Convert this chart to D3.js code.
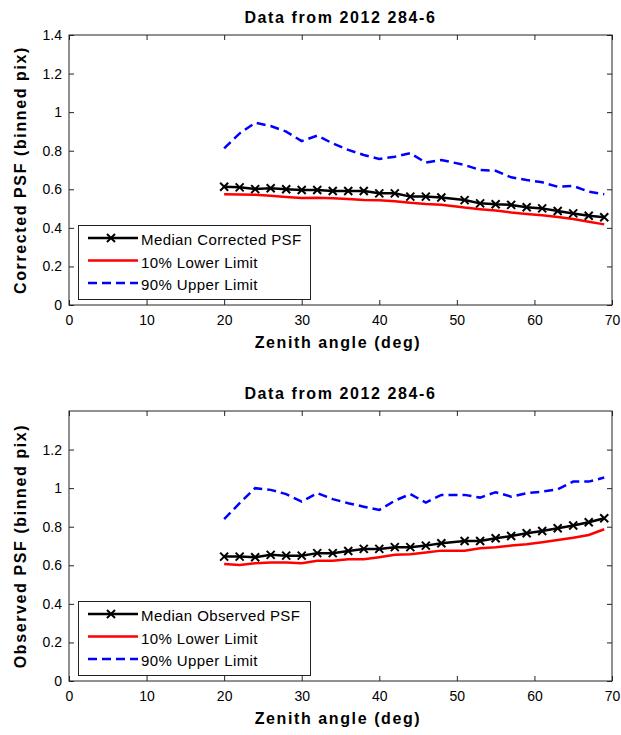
<!DOCTYPE html>
<html>
<head>
<meta charset="utf-8">
<title>PSF vs zenith angle</title>
<script src="https://d3js.org/d3.v7.min.js"></script>
<style>
body { margin:0; background:#fff; }
svg text { font-family: "Liberation Sans", Arial, sans-serif; fill:#000; }
.tick text { font-size:14px; }
.lab { font-size:16px; font-weight:bold; letter-spacing:1.6px; }
.leg { font-size:15px; letter-spacing:0.4px; }
</style>
</head>
<body>
<svg width="621" height="735"></svg>
<script>
// zenith angles (deg)
var zenith = [20,22,24,26,28,30,32,34,36,38,40,42,44,46,48,51,53,55,57,59,61,63,65,67,69];

// top panel - corrected PSF
var corrMedian = [0.613,0.610,0.601,0.605,0.600,0.596,0.596,0.591,0.591,0.591,0.579,0.579,0.562,0.562,0.557,0.544,0.527,0.522,0.519,0.507,0.501,0.487,0.475,0.463,0.455];
var corrLower  = [0.574,0.573,0.572,0.566,0.560,0.555,0.556,0.553,0.550,0.545,0.543,0.538,0.530,0.524,0.520,0.505,0.497,0.490,0.480,0.472,0.465,0.456,0.446,0.432,0.418];
var corrUpper  = [0.812,0.890,0.945,0.928,0.899,0.850,0.878,0.838,0.804,0.778,0.757,0.769,0.787,0.738,0.752,0.726,0.700,0.696,0.662,0.648,0.636,0.613,0.617,0.588,0.574];

// bottom panel - observed PSF
var obsMedian = [0.645,0.645,0.642,0.654,0.650,0.650,0.663,0.663,0.674,0.685,0.685,0.694,0.694,0.702,0.714,0.726,0.726,0.740,0.752,0.766,0.778,0.792,0.806,0.823,0.844];
var obsLower  = [0.607,0.602,0.611,0.614,0.614,0.611,0.623,0.623,0.631,0.631,0.642,0.654,0.657,0.666,0.676,0.676,0.688,0.694,0.702,0.709,0.720,0.731,0.743,0.757,0.787];
var obsUpper  = [0.839,0.922,1.000,0.991,0.969,0.930,0.974,0.943,0.922,0.904,0.887,0.935,0.969,0.925,0.965,0.965,0.951,0.979,0.956,0.974,0.982,0.994,1.034,1.034,1.055];

var xTicks = [0,10,20,30,40,50,60,70];
var yTicksTop = [0,0.2,0.4,0.6,0.8,1,1.2,1.4];
var yTicksBottom = [0,0.2,0.4,0.6,0.8,1,1.2];

var svg = d3.select("svg");
var left = 69, right = 612, h = 270;

function panel(top, yLabel, medName, med, lo, up, yTicks) {
  var x = d3.scaleLinear().domain([0,70]).range([left,right]);
  var y = d3.scaleLinear().domain([0,1.4]).range([top+h,top]);
  var g = svg.append("g");

  g.append("rect").attr("x",left).attr("y",top).attr("width",right-left).attr("height",h)
    .style("fill","none").style("stroke","#222").style("stroke-width",1);

  function ax(a, tx, ty, labels) {
    var s = g.append("g").attr("transform","translate("+tx+","+ty+")").call(a);
    s.select(".domain").remove();
    s.selectAll("line").style("stroke","#222");
    if (!labels) s.selectAll("text").remove();
  }
  ax(d3.axisBottom(x).tickValues(xTicks).tickFormat(d3.format("~g")).tickSizeInner(-5).tickSizeOuter(0).tickPadding(10), 0, top+h, true);
  ax(d3.axisTop(x).tickValues(xTicks).tickSizeInner(-5).tickSizeOuter(0), 0, top, false);
  ax(d3.axisLeft(y).tickValues(yTicks).tickFormat(d3.format("~g")).tickSizeInner(-5).tickSizeOuter(0).tickPadding(7), left, 0, true);
  ax(d3.axisRight(y).tickValues(yTicks).tickSizeInner(-5).tickSizeOuter(0), right, 0, false);
  g.selectAll(".tick text").style("font-size","14px").style("font-family","'Liberation Sans', Arial, sans-serif");

  var line = function(vals) {
    return d3.line().x(function(d,i){ return x(zenith[i]); }).y(function(d){ return y(d); })(vals);
  };
  g.append("path").attr("d",line(lo)).style("fill","none").style("stroke","#ff0000").style("stroke-width",2.5);
  g.append("path").attr("d",line(up)).style("fill","none").style("stroke","#0000ff").style("stroke-width",2.5).style("stroke-dasharray","9,5");
  g.append("path").attr("d",line(med)).style("fill","none").style("stroke","#000").style("stroke-width",2.5);
  g.selectAll(".mk").data(med).enter().append("path")
    .attr("d", function(d,i){ var cx=x(zenith[i]), cy=y(d), r=4;
      return "M"+(cx-r)+","+(cy-r)+"L"+(cx+r)+","+(cy+r)+"M"+(cx-r)+","+(cy+r)+"L"+(cx+r)+","+(cy-r); })
    .style("stroke","#000").style("stroke-width",2);

  // title and axis labels
  g.append("text").attr("class","lab").attr("x",(left+right)/2).attr("y",top-12).attr("text-anchor","middle").text("Data from 2012 284-6");
  g.append("text").attr("class","lab").attr("x",338).attr("y",top+h+43).attr("text-anchor","middle").text("Zenith angle (deg)");
  g.append("text").attr("class","lab").attr("transform","translate(26,"+(top+h/2)+") rotate(-90)").attr("text-anchor","middle").text(yLabel);

  // legend
  var ly = top+190;
  g.append("rect").attr("x",78.5).attr("y",ly+0.5).attr("width",232).attr("height",74)
    .style("fill","#fff").style("stroke","#222").style("stroke-width",1);
  var rows = [
    {name: medName, color:"#000", dash:null, mark:true},
    {name: "10% Lower Limit", color:"#ff0000", dash:null, mark:false},
    {name: "90% Upper Limit", color:"#0000ff", dash:"9,5", mark:false}
  ];
  rows.forEach(function(r,i){
    var yy = ly + 13 + i*22.5;
    g.append("line").attr("x1",88).attr("x2",138).attr("y1",yy).attr("y2",yy)
      .style("stroke",r.color).style("stroke-width",2.5).style("stroke-dasharray",r.dash);
    if (r.mark) g.append("path").attr("d","M107,"+(yy-4)+"L115,"+(yy+4)+"M107,"+(yy+4)+"L115,"+(yy-4))
      .style("stroke","#000").style("stroke-width",2);
    g.append("text").attr("class","leg").attr("x",141).attr("y",yy+7).text(r.name);
  });
}

panel(35, "Corrected PSF (binned pix)", "Median Corrected PSF", corrMedian, corrLower, corrUpper, yTicksTop);
panel(411, "Observed PSF (binned pix)", "Median Observed PSF", obsMedian, obsLower, obsUpper, yTicksBottom);
</script>
</body>
</html>
